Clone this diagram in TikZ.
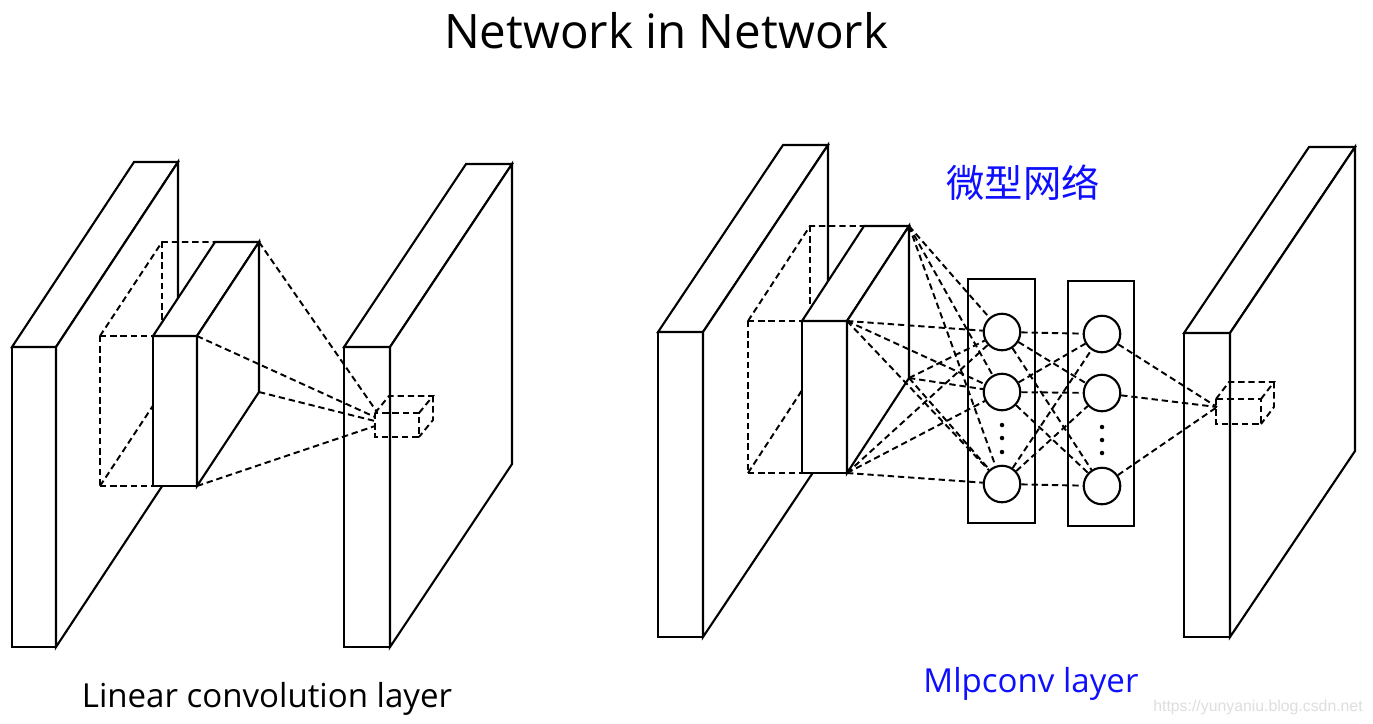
\documentclass[tikz,border=0pt]{standalone}
\usepackage{fontspec}
\setmainfont{Open Sans}
\newfontfamily\cjk{Noto Sans CJK SC}
\newfontfamily\wmfont{Liberation Sans}
\definecolor{labelblue}{RGB}{15,15,255}
\definecolor{wmgray}{RGB}{222,222,222}
\tikzset{
  solidedge/.style={draw=black, line width=0.6pt, fill=white, line join=miter},
  dashedge/.style={draw=black, line width=0.55pt, dash pattern=on 1.8pt off 1.1pt},
  neuron/.style={circle, draw=black, line width=0.6pt, fill=white, minimum size=0.365cm, inner sep=0pt},
  mlpbox/.style={draw=black, line width=0.7pt},
  dotnode/.style={circle, fill=black, minimum size=0.045cm, inner sep=0pt},
  title/.style={font=\fontsize{13.5}{16}\selectfont, anchor=base},
  caption/.style={font=\fontsize{9.4}{11}\selectfont, anchor=base},
}
% name, x1, y1, x2, y2, dx, dy
\newcommand\slabcoords[7]{%
  \coordinate (#1-ftl) at (#2,#3);
  \coordinate (#1-ftr) at (#4,#3);
  \coordinate (#1-fbl) at (#2,#5);
  \coordinate (#1-fbr) at (#4,#5);
  \path (#1-ftl) ++(#6,#7) coordinate (#1-btl);
  \path (#1-ftr) ++(#6,#7) coordinate (#1-btr);
  \path (#1-fbl) ++(#6,#7) coordinate (#1-bbl);
  \path (#1-fbr) ++(#6,#7) coordinate (#1-bbr);
}
\newcommand\slabdraw[1]{%
  \filldraw[solidedge] (#1-ftl) rectangle (#1-fbr);
  \filldraw[solidedge] (#1-ftl) -- (#1-btl) -- (#1-btr) -- (#1-ftr) -- cycle;
  \filldraw[solidedge] (#1-ftr) -- (#1-btr) -- (#1-bbr) -- (#1-fbr) -- cycle;
}
\newcommand\cubedraw[1]{%
  \draw[dashedge] (#1-ftl) rectangle (#1-fbr);
  \draw[dashedge] (#1-ftl) -- (#1-btl) -- (#1-btr) -- (#1-ftr);
  \draw[dashedge] (#1-btr) -- (#1-bbr) -- (#1-fbr);
}
% receptive field: dashed cuboid to the left of slab #2
\newcommand\fielddraw[2]{%
  \draw[dashedge] (#1-ftl) -- (#1-fbl);
  \draw[dashedge] (#1-ftl) -- (#2-ftl);
  \draw[dashedge] (#1-fbl) -- (#2-fbl);
  \draw[dashedge] (#1-ftl) -- (#1-btl) -- (#2-btl);
  \draw[dashedge] (#1-btl) -- (#1-bbl);
  \draw[dashedge] (#1-fbl) -- (#1-bbl);
}
\begin{document}
\begin{tikzpicture}[x=0.01cm, y=-0.01cm]
\useasboundingbox[fill=white] (0,0) rectangle (1373,723);

% ---------------- left panel ----------------
\slabcoords{La}{12}{347}{56}{647}{122}{-185}
\slabcoords{Lm}{153}{336}{197}{486}{62}{-94}
\slabcoords{Lf}{100}{336}{153}{486}{62}{-94}
\slabcoords{Lr}{344}{347}{390}{647}{122}{-183}
\slabcoords{Lc}{375}{413}{419}{437}{14}{-17}

\slabdraw{La}
\fielddraw{Lf}{Lm}
\slabdraw{Lm}
\slabdraw{Lr}
\cubedraw{Lc}

\coordinate (Lp1) at (377,412);
\coordinate (Lp2) at (375,417);
\coordinate (Lp3) at (375,421);
\coordinate (Lp4) at (375,426);
\draw[dashedge] (Lm-btr) -- (Lp1);
\draw[dashedge] (Lm-ftr) -- (Lp2);
\draw[dashedge] (Lm-bbr) -- (Lp3);
\draw[dashedge] (Lm-fbr) -- (Lp4);

% ---------------- right panel ----------------
\slabcoords{Ra}{658}{332}{703}{637}{125}{-187}
\slabcoords{Rm}{802}{321}{847}{473}{62}{-95}
\slabcoords{Rf}{748}{321}{802}{473}{62}{-95}
\slabcoords{Rr}{1184}{333}{1230}{637}{125}{-186}
\slabcoords{Rc}{1216}{399}{1261}{424}{13}{-17}

\slabdraw{Ra}
\fielddraw{Rf}{Rm}
\slabdraw{Rm}
\slabdraw{Rr}
\cubedraw{Rc}

\draw[mlpbox] (968,279) rectangle (1035,523);
\draw[mlpbox] (1068,281) rectangle (1134,526);

\node[neuron] (a1) at (1002,332) {};
\node[neuron] (a2) at (1002,392) {};
\node[neuron] (a3) at (1002,484) {};
\node[neuron] (b1) at (1102,334) {};
\node[neuron] (b2) at (1102,393) {};
\node[neuron] (b3) at (1102,486) {};

\node[dotnode] (ad1) at (1002,425) {};
\node[dotnode] (ad2) at (1002,438) {};
\node[dotnode] (ad3) at (1002,452) {};
\node[dotnode] (bd1) at (1102,427) {};
\node[dotnode] (bd2) at (1102,440) {};
\node[dotnode] (bd3) at (1102,453) {};

\foreach \c in {btr,ftr,bbr,fbr}{
  \foreach \n in {a1,a2,a3}{
    \draw[dashedge] (Rm-\c) -- (\n);
  }
}
\foreach \s in {a1,a2,a3}{
  \foreach \t in {b1,b2,b3}{
    \draw[dashedge] (\s) -- (\t);
  }
}
\coordinate (Rp) at (1217,407);
\foreach \s in {b1,b2,b3}{
  \draw[dashedge] (\s) -- (Rp);
}

% ---------------- texts ----------------
\node[title] (ttl) at (666,48) {Network in Network};
\node[caption] (cap1) at (267,707) {Linear convolution layer};
\node[caption, text=labelblue] (cap2) at (1031,692) {Mlpconv layer};
\node[font=\cjk\fontsize{10.9}{12}\selectfont, text=labelblue] (micro) at (1023,183) {微型网络};
\node[font=\wmfont\fontsize{4.5}{5}\selectfont, text=wmgray, anchor=base] (wm) at (1258,711) {https://yunyaniu.blog.csdn.net};
\end{tikzpicture}
\end{document}
